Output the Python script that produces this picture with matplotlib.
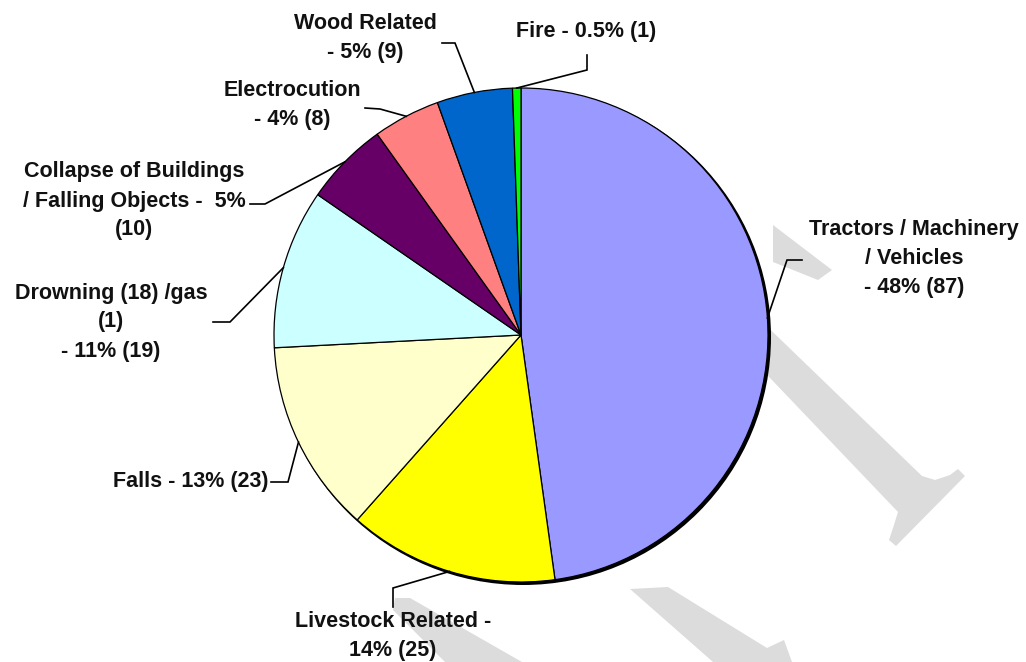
import matplotlib.pyplot as plt
from matplotlib.patches import Polygon, Circle
import numpy as np

# fatal accidents by cause, clockwise from 12 o'clock
causes = ['Tractors / Machinery / Vehicles', 'Livestock Related', 'Falls',
          'Drowning / gas', 'Collapse of Buildings / Falling Objects',
          'Electrocution', 'Wood Related', 'Fire']
counts = [87, 25, 23, 19, 10, 8, 9, 1]
labels = ['Tractors / Machinery\n/ Vehicles\n- 48% (87)',
          'Livestock Related -\n14% (25)',
          'Falls - 13% (23)',
          'Drowning (18) /gas\n(1)\n- 11% (19)',
          'Collapse of Buildings\n/ Falling Objects -  5%\n(10)',
          'Electrocution\n- 4% (8)',
          'Wood Related\n- 5% (9)',
          'Fire - 0.5% (1)']
colors = ['#9999FF', '#FFFF00', '#FFFFCC', '#CCFFFF', '#660066',
          '#FF8080', '#0066CC', '#00FF00']

W, H = 1026, 662

# label block centres and leader elbows (pixels from top-left)
label_pos = [(914, 258), (393, 636), (191, 482), (111, 322),
             (134, 201), (292, 105), (365, 38), (586, 32)]
leader_start = [(802, 260), (393, 607), (271, 482), (213, 322),
                (250, 204), (365, 108), (442, 43), (587, 55)]
leader_elbow = [(787, 260), (393, 588), (288, 482), (230, 322),
                (265, 204), (380, 109), (455, 43), (587, 70)]


def flip(p):
    return (p[0], H - p[1])


fig = plt.figure(figsize=(W / 100, H / 100), dpi=100)
ax = fig.add_axes([0, 0, 1, 1])

# faint watermark strokes in the background
wm = '#DCDCDC'
for poly in [
    [(773, 225), (832, 270), (818, 280), (773, 262)],
    [(750, 310), (922, 476), (935, 480), (950, 475), (958, 469),
     (965, 476), (896, 546), (889, 540), (893, 528), (898, 512), (750, 357)],
    [(630, 589), (668, 587), (767, 648), (784, 640), (792, 662), (713, 662)],
    [(395, 598), (410, 598), (522, 662), (445, 662), (393, 610)],
]:
    ax.add_patch(Polygon([flip(p) for p in poly], closed=True,
                         facecolor=wm, edgecolor='none', zorder=1))

center = flip((521, 335))
radius = 247

ax.add_patch(Circle((center[0] + 2, center[1] - 2), radius + 1,
                    facecolor='black', edgecolor='none', zorder=2))

wedges, _ = ax.pie(counts, colors=colors, startangle=90, counterclock=False,
                   center=center, radius=radius,
                   wedgeprops=dict(edgecolor='black', linewidth=0.9, zorder=3))

for w, lab, pos, p0, p1 in zip(wedges, labels, label_pos,
                               leader_start, leader_elbow):
    mid = np.deg2rad((w.theta1 + w.theta2) / 2)
    edge = (center[0] + radius * np.cos(mid), center[1] + radius * np.sin(mid))
    a, b = flip(p0), flip(p1)
    ax.plot([a[0], b[0], edge[0]], [a[1], b[1], edge[1]],
            color='black', lw=1.2, zorder=4, solid_joinstyle='miter')
    x, y = flip(pos)
    ax.text(x, y, lab, ha='center', va='center', multialignment='center',
            fontsize=15.5, fontweight='bold', family='Liberation Sans',
            color='#111111', linespacing=1.5, zorder=5)

ax.set_xlim(0, W)
ax.set_ylim(0, H)
ax.set_aspect('equal')
ax.axis('off')

fig.savefig('out.png', dpi=100, facecolor='white')
